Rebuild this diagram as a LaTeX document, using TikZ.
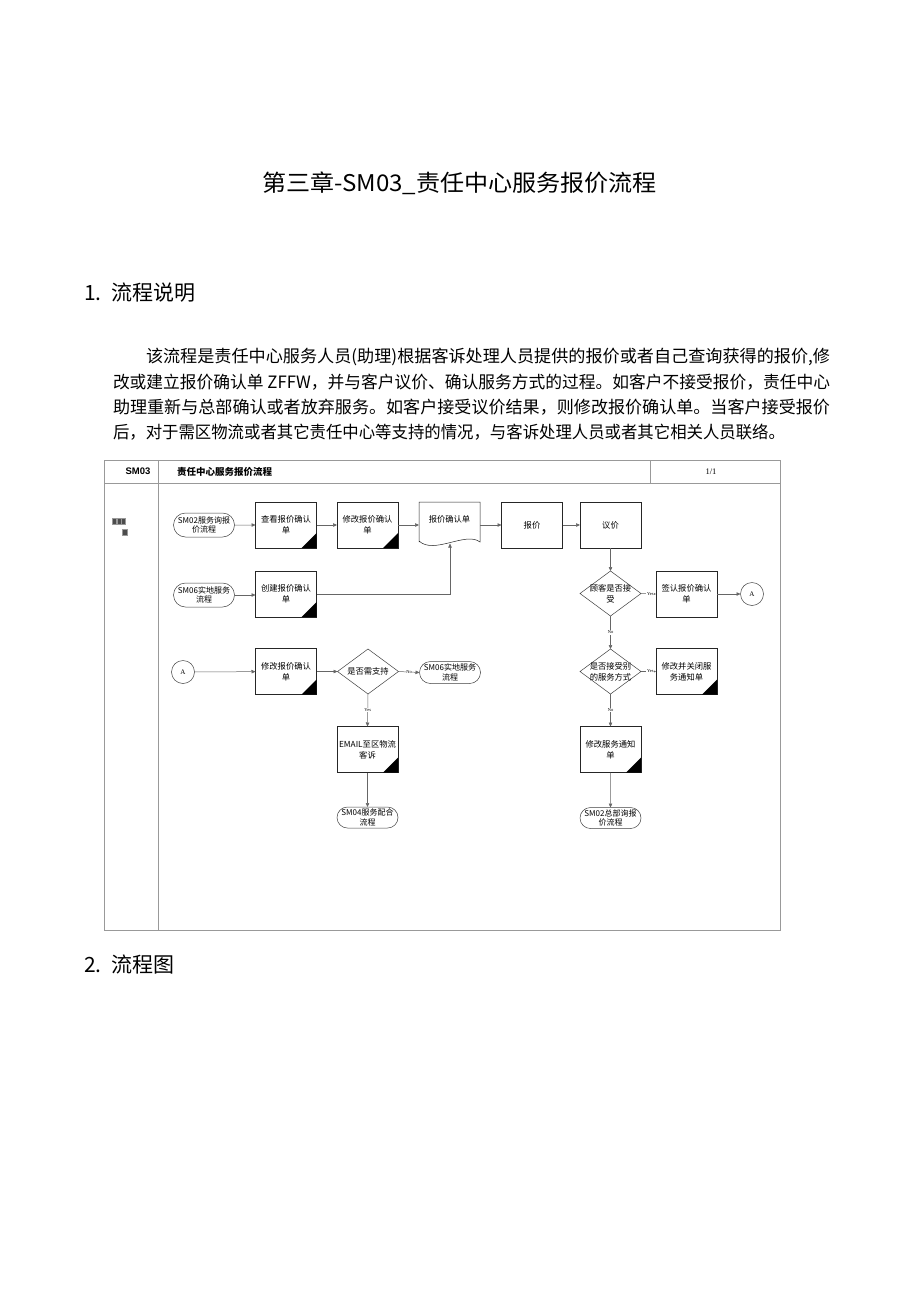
\documentclass[tikz,border=0pt]{standalone}
\usepackage{fontspec}
\usepackage{graphicx}
\setmainfont{Noto Sans CJK SC}
\newfontfamily\arialf{Liberation Sans}
\newfontfamily\serf{Liberation Serif}
\usetikzlibrary{arrows.meta,shapes.geometric,shapes.misc}
\newcommand{\fitw}[2]{\resizebox{#1}{\height}{#2}}
\tikzset{
 every node/.style={inner sep=0pt, outer sep=0pt},
 box/.style={draw=black!85, line width=0.5pt, minimum width=61pt, minimum height=46pt, align=center, font=\fontsize{8.3}{11}\selectfont},
 term/.style={draw=black!75, rounded rectangle, line width=0.5pt, minimum width=61pt, minimum height=22pt, align=center, font=\fontsize{8}{9.5}\selectfont},
 dia/.style={draw=black!75, diamond, line width=0.5pt, minimum width=61pt, minimum height=45pt},
 dtext/.style={align=center, font=\fontsize{8.3}{11}\selectfont},
 conn/.style={circle, draw=black!75, line width=0.5pt, minimum size=23pt, font=\serf\fontsize{7}{7}\selectfont},
 con/.style={draw=black!60, line width=0.5pt},
 arr/.style={con, -{Triangle[length=4pt,width=3.5pt]}},
 yn/.style={font=\serf\fontsize{4.5}{5}\selectfont, fill=white, inner sep=0.6pt},
 frame/.style={draw=black!40, line width=0.6pt},
 para/.style={anchor=west, font=\fontsize{17}{20}\selectfont},
 head/.style={anchor=west, font=\fontsize{21}{24}\selectfont},
}
\begin{document}
\begin{tikzpicture}[x=1pt,y=-1pt]
\useasboundingbox[fill=white] (0,0) rectangle (920,1301);

% title and text
\node[font=\fontsize{23}{26}\selectfont] (title) at (459.5,183) {\fitw{395pt}{第三章-SM03\_责任中心服务报价流程}};
\node[head] (h1) at (84,293) {1.\hspace{10pt}流程说明};
\node[para] (p1) at (146,357) {\fitw{684pt}{该流程是责任中心服务人员(助理)根据客诉处理人员提供的报价或者自己查询获得的报价,修}};
\node[para] (p2) at (113,382) {\fitw{717pt}{改或建立报价确认单 ZFFW，并与客户议价、确认服务方式的过程。如客户不接受报价，责任中心}};
\node[para] (p3) at (113,407) {\fitw{717pt}{助理重新与总部确认或者放弃服务。如客户接受议价结果，则修改报价确认单。当客户接受报价}};
\node[para] (p4) at (113,432) {\fitw{672pt}{后，对于需区物流或者其它责任中心等支持的情况，与客诉处理人员或者其它相关人员联络。}};
\node[head] (h2) at (84,965) {2.\hspace{10pt}流程图};

% frame
\draw[frame] (104,460) rectangle (780,930);
\draw[frame] (104,483) -- (780,483);
\draw[frame] (158,460) -- (158,930);
\draw[frame] (650,460) -- (650,483);
\node[font=\arialf\bfseries\fontsize{9.5}{10}\selectfont] (hsm) at (138,471.5) {SM03};
\node[anchor=west, font=\bfseries\fontsize{9.5}{10}\selectfont] (htitle) at (177,471.5) {责任中心服务报价流程};
\node[font=\serf\fontsize{8.5}{9}\selectfont] (hpage) at (711,471.5) {1/1};
% lane label (unrendered glyphs)
\foreach \x in {112.5,116.8,121.1}{\draw[fill=black!70, draw=black!40, line width=0.3pt] (\x,518) rectangle ++(4,6);}
\draw[fill=black!70, draw=black!40, line width=0.3pt] (122,529) rectangle ++(5,6);

% row 1
\node[term, minimum height=24pt] (t1) at (204,525) {SM02服务询报\\价流程};
\node[box] (b1) at (286,525) {查看报价确认\\单};
\node[box] (b2) at (367.5,525) {修改报价确认\\单};
\node[minimum width=61pt, minimum height=46pt] (doc) at (449.5,525) {};
\draw[draw=black!85, line width=0.5pt] (doc.south west) ++(0,-6) -- (doc.north west) -- (doc.north east) -- ++(0,40) .. controls (466,531) and (434,555) .. (419,541) -- cycle;
\node[dtext] (doct) at (449.5,519) {报价确认单};
\coordinate (docb) at (450,543.5);
\node[box] (bj) at (532,525) {报价};
\node[box] (yj) at (610.5,525) {议价};

% row 2
\node[term, minimum height=24pt] (t2) at (204,595) {SM06实地服务\\流程};
\node[box] (cj) at (286,594) {创建报价确认\\单};
\node[dia] (d1) at (610.5,593.5) {};
\node[dtext] (d1t) at (610.5,593.5) {顾客是否接\\受};
\node[box] (qr) at (686.5,594) {签认报价确认\\单};
\node[conn] (A1) at (752,594) {A};

% row 3
\node[conn] (A2) at (183,672) {A};
\node[box] (b3) at (286,671.5) {修改报价确认\\单};
\node[dia] (d3) at (368,671.5) {};
\node[dtext] (d3t) at (368,671.5) {是否需支持};
\node[term] (t3) at (450,672.5) {SM06实地服务\\流程};
\node[dia] (d2) at (610.5,671.5) {};
\node[dtext] (d2t) at (610.5,671.5) {是否接受别\\的服务方式};
\node[box] (xg) at (686.5,671.5) {修改并关闭服\\务通知单};

% row 4/5
\node[box] (em) at (367.5,749.5) {EMAIL至区物流\\客诉};
\node[box] (xf) at (610.5,749.5) {修改服务通知\\单};
\node[term, minimum height=21pt] (t5) at (367.5,817.5) {SM04服务配合\\流程};
\node[term, minimum height=21pt] (t4) at (610.5,818) {SM02总部询报\\价流程};

% black corner marks
\foreach \n in {b1,b2,cj,b3,em,xg,xf}{\fill[black] (\n.south east) -- ++(-15,0) -- ++(15,-15) -- cycle;}

% connectors
\draw[arr] (t1) -- (b1);
\draw[arr] (b1) -- (b2);
\draw[arr] (b2.east) -- (doc.west);
\draw[arr] (doc.east) -- (bj.west);
\draw[arr] (bj) -- (yj);
\draw[arr] (t2.east) -- (t2.east -| cj.west);
\draw[arr] (cj.east) -| (docb);
\draw[arr] (yj) -- (d1);
\draw[arr] (d1.east) -- node[yn, pos=0.62] {Yes} (qr.west);
\draw[arr] (qr.east) -- (A1);
\draw[arr] (d1.south) -- node[yn] {No} (d2.north);
\draw[arr] (d2.east) -- node[yn, pos=0.62] {Yes} (xg.west);
\draw[arr] (d2.south) -- node[yn] {No} (xf.north);
\draw[arr] (xf) -- (t4);
\draw[arr] (A2) -- (b3);
\draw[arr] (b3) -- (d3);
\draw[arr] (d3.east) -- node[yn] {No} (t3.west);
\draw[arr] (d3.south) -- node[yn] {Yes} (em.north);
\draw[arr] (em) -- (t5);
\end{tikzpicture}
\end{document}
